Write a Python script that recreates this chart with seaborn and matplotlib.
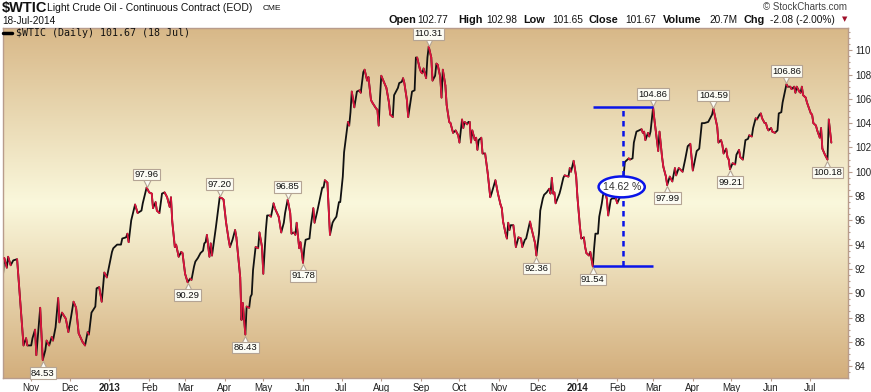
import numpy as np
import pandas as pd
import seaborn as sns
import matplotlib.pyplot as plt
import matplotlib.dates as mdates
from matplotlib.transforms import offset_copy
from matplotlib.collections import LineCollection
from matplotlib.colors import LinearSegmentedColormap
from matplotlib.patches import Ellipse
from matplotlib.lines import Line2D
from matplotlib.ticker import MultipleLocator

sns.set_style('white')
plt.rcParams['font.family'] = ['Liberation Sans', 'DejaVu Sans']

# daily closes (one line per month)
dates = [
    '2012-10-10', '2012-10-11', '2012-10-13', '2012-10-14', '2012-10-16', '2012-10-18', '2012-10-21', '2012-10-26', '2012-10-28', '2012-10-29',
    '2012-11-01', '2012-11-02', '2012-11-04', '2012-11-05', '2012-11-08', '2012-11-10', '2012-11-12', '2012-11-13', '2012-11-15', '2012-11-17', '2012-11-18', '2012-11-20', '2012-11-22', '2012-11-23', '2012-11-25', '2012-11-28', '2012-11-30',
    '2012-12-02', '2012-12-04', '2012-12-06', '2012-12-08', '2012-12-11', '2012-12-13', '2012-12-15', '2012-12-16', '2012-12-18', '2012-12-21', '2012-12-22', '2012-12-24', '2012-12-26', '2012-12-28', '2012-12-30',
    '2013-01-03', '2013-01-04', '2013-01-07', '2013-01-10', '2013-01-11', '2013-01-14', '2013-01-15', '2013-01-16', '2013-01-18', '2013-01-21', '2013-01-23', '2013-01-26', '2013-01-27', '2013-01-30',
    '2013-02-01', '2013-02-03', '2013-02-04', '2013-02-06', '2013-02-07', '2013-02-09', '2013-02-11', '2013-02-13', '2013-02-15', '2013-02-17', '2013-02-18', '2013-02-19', '2013-02-21', '2013-02-22', '2013-02-24', '2013-02-26', '2013-02-27',
    '2013-03-01', '2013-03-03', '2013-03-05', '2013-03-06', '2013-03-08', '2013-03-09', '2013-03-11', '2013-03-13', '2013-03-15', '2013-03-16', '2013-03-17', '2013-03-18', '2013-03-20', '2013-03-21', '2013-03-22', '2013-03-24', '2013-03-25', '2013-03-27', '2013-03-28', '2013-03-30', '2013-03-31',
    '2013-04-02', '2013-04-04', '2013-04-05', '2013-04-07', '2013-04-09', '2013-04-10', '2013-04-13', '2013-04-14', '2013-04-15', '2013-04-17', '2013-04-18', '2013-04-20', '2013-04-21', '2013-04-22', '2013-04-23', '2013-04-25', '2013-04-27', '2013-04-28', '2013-04-30',
    '2013-05-01', '2013-05-03', '2013-05-04', '2013-05-06', '2013-05-07', '2013-05-09', '2013-05-10', '2013-05-13', '2013-05-15', '2013-05-17', '2013-05-18', '2013-05-20', '2013-05-22', '2013-05-23', '2013-05-25', '2013-05-26', '2013-05-27', '2013-05-29', '2013-05-30',
    '2013-06-01', '2013-06-02', '2013-06-03', '2013-06-06', '2013-06-07', '2013-06-09', '2013-06-10', '2013-06-12', '2013-06-14', '2013-06-16', '2013-06-17', '2013-06-18', '2013-06-20', '2013-06-22', '2013-06-24', '2013-06-25', '2013-06-27', '2013-06-29', '2013-06-30',
    '2013-07-02', '2013-07-03', '2013-07-06', '2013-07-07', '2013-07-08', '2013-07-09', '2013-07-11', '2013-07-13', '2013-07-15', '2013-07-16', '2013-07-18', '2013-07-19', '2013-07-21', '2013-07-22', '2013-07-24', '2013-07-25', '2013-07-28', '2013-07-29', '2013-07-30', '2013-07-31',
    '2013-08-01', '2013-08-03', '2013-08-05', '2013-08-07', '2013-08-08', '2013-08-10', '2013-08-11', '2013-08-12', '2013-08-14', '2013-08-15', '2013-08-17', '2013-08-18', '2013-08-19', '2013-08-21', '2013-08-22', '2013-08-24', '2013-08-25', '2013-08-27', '2013-08-28', '2013-08-29', '2013-08-31',
    '2013-09-01', '2013-09-02', '2013-09-03', '2013-09-05', '2013-09-06', '2013-09-07', '2013-09-09', '2013-09-10', '2013-09-12', '2013-09-13', '2013-09-14', '2013-09-16', '2013-09-17', '2013-09-18', '2013-09-20', '2013-09-21', '2013-09-23', '2013-09-24', '2013-09-26', '2013-09-28', '2013-09-30',
    '2013-10-01', '2013-10-03', '2013-10-04', '2013-10-05', '2013-10-07', '2013-10-08', '2013-10-09', '2013-10-10', '2013-10-11', '2013-10-13', '2013-10-14', '2013-10-15', '2013-10-16', '2013-10-18', '2013-10-19', '2013-10-21', '2013-10-23', '2013-10-25', '2013-10-26', '2013-10-29', '2013-10-31',
    '2013-11-02', '2013-11-03', '2013-11-04', '2013-11-06', '2013-11-07', '2013-11-08', '2013-11-09', '2013-11-10', '2013-11-12', '2013-11-14', '2013-11-16', '2013-11-18', '2013-11-19', '2013-11-21', '2013-11-22', '2013-11-25', '2013-11-26', '2013-11-29', '2013-11-30',
    '2013-12-02', '2013-12-03', '2013-12-05', '2013-12-06', '2013-12-08', '2013-12-10', '2013-12-11', '2013-12-12', '2013-12-13', '2013-12-14', '2013-12-15', '2013-12-18', '2013-12-19', '2013-12-21', '2013-12-22', '2013-12-25', '2013-12-26', '2013-12-27', '2013-12-29', '2013-12-31',
    '2014-01-01', '2014-01-03', '2014-01-04', '2014-01-06', '2014-01-07', '2014-01-08', '2014-01-10', '2014-01-11', '2014-01-13', '2014-01-14', '2014-01-15', '2014-01-17', '2014-01-18', '2014-01-20', '2014-01-21', '2014-01-23', '2014-01-24', '2014-01-25', '2014-01-27', '2014-01-28', '2014-01-31',
    '2014-02-01', '2014-02-03', '2014-02-04', '2014-02-06', '2014-02-07', '2014-02-10', '2014-02-11', '2014-02-13', '2014-02-14', '2014-02-16', '2014-02-18', '2014-02-20', '2014-02-21', '2014-02-22', '2014-02-23', '2014-02-25', '2014-02-26', '2014-02-27',
    '2014-03-01', '2014-03-02', '2014-03-05', '2014-03-06', '2014-03-08', '2014-03-09', '2014-03-11', '2014-03-12', '2014-03-14', '2014-03-16', '2014-03-18', '2014-03-19', '2014-03-21', '2014-03-24', '2014-03-26', '2014-03-28', '2014-03-30',
    '2014-04-01', '2014-04-04', '2014-04-06', '2014-04-08', '2014-04-10', '2014-04-13', '2014-04-14', '2014-04-16', '2014-04-17', '2014-04-20', '2014-04-21', '2014-04-23', '2014-04-24', '2014-04-25', '2014-04-27', '2014-04-28', '2014-04-29', '2014-04-30',
    '2014-05-02', '2014-05-04', '2014-05-05', '2014-05-07', '2014-05-08', '2014-05-10', '2014-05-11', '2014-05-12', '2014-05-14', '2014-05-15', '2014-05-17', '2014-05-18', '2014-05-20', '2014-05-21', '2014-05-23', '2014-05-24', '2014-05-25', '2014-05-27', '2014-05-28', '2014-05-29', '2014-05-30',
    '2014-06-01', '2014-06-02', '2014-06-04', '2014-06-06', '2014-06-07', '2014-06-09', '2014-06-10', '2014-06-13', '2014-06-14', '2014-06-16', '2014-06-17', '2014-06-19', '2014-06-20', '2014-06-21', '2014-06-23', '2014-06-24', '2014-06-25', '2014-06-26', '2014-06-28', '2014-06-29',
    '2014-07-02', '2014-07-03', '2014-07-04', '2014-07-06', '2014-07-07', '2014-07-09', '2014-07-10', '2014-07-11', '2014-07-13', '2014-07-15', '2014-07-16', '2014-07-18',
]
closes = [
    91.5, 92.9, 92.1, 93.0, 92.3, 92.7, 92.8, 85.7, 86.3, 85.7,
    85.7, 86.3, 87.0, 84.9, 88.8, 84.5, 85.3, 86.1, 85.7, 86.4, 86.1, 87.2, 89.6, 87.6, 88.4, 87.9, 86.8,
    88.0, 89.3, 88.8, 86.7, 86.0, 85.7, 86.8, 86.6, 88.4, 88.9, 90.4, 90.5, 89.3, 91.7, 91.3,
    93.4, 93.7, 94.0, 94.0, 94.5, 94.6, 94.9, 94.2, 96.0, 97.3, 96.6, 96.8, 97.4, 98.7,
    98.3, 98.2, 97.0, 97.5, 96.8, 96.6, 98.2, 98.3, 97.9, 97.1, 97.9, 95.9, 93.8, 94.0, 93.0, 93.4, 93.3,
    91.6, 90.9, 91.2, 91.1, 92.2, 92.6, 92.9, 93.3, 93.5, 94.1, 94.2, 94.8, 93.0, 94.1, 93.1, 94.6, 95.4, 97.1, 97.9, 97.8, 97.7,
    95.8, 94.4, 93.8, 94.4, 95.2, 94.6, 91.3, 87.8, 89.2, 86.6, 88.9, 88.8, 89.7, 89.9, 91.9, 93.8, 93.7, 95.0, 93.8,
    91.6, 95.2, 96.4, 96.4, 96.3, 97.4, 97.0, 96.3, 95.0, 95.8, 96.6, 97.7, 96.6, 94.9, 95.0, 94.8, 95.8, 93.7, 94.2,
    92.5, 93.7, 94.4, 94.5, 95.5, 97.0, 95.8, 96.7, 97.7, 98.7, 98.7, 99.3, 99.1, 94.8, 95.8, 96.0, 96.3, 97.5, 97.5,
    99.6, 101.6, 104.1, 103.8, 104.9, 106.6, 105.3, 106.6, 106.7, 106.5, 108.2, 108.4, 107.5, 107.8, 105.9, 105.7, 105.2, 105.1, 103.8, 106.1,
    107.9, 107.4, 106.9, 105.7, 104.7, 104.5, 106.3, 106.5, 106.9, 107.3, 107.4, 107.7, 107.3, 105.9, 104.5, 105.9, 106.6, 106.7, 109.4, 109.4, 108.5,
    108.2, 108.1, 108.5, 107.7, 109.4, 110.3, 109.4, 107.5, 107.9, 108.9, 108.8, 107.8, 106.1, 108.4, 107.1, 105.5, 104.1, 104.0, 103.2, 103.4, 103.0,
    102.4, 104.3, 103.6, 104.1, 103.9, 104.1, 104.1, 102.4, 103.4, 102.6, 102.8, 101.8, 102.6, 102.8, 101.5, 101.5, 99.9, 97.9, 98.2, 99.3, 98.2,
    97.3, 97.0, 95.9, 94.9, 94.5, 95.8, 95.2, 95.6, 95.6, 93.8, 94.6, 94.5, 93.8, 94.4, 94.5, 95.9, 95.4, 94.1, 93.1,
    94.9, 96.8, 97.8, 98.1, 98.3, 98.6, 98.2, 99.5, 98.2, 98.3, 97.4, 98.2, 98.6, 99.5, 99.7, 99.6, 100.3, 100.0, 100.9, 99.6,
    97.9, 95.4, 94.5, 94.6, 93.8, 93.3, 93.1, 93.4, 92.2, 93.7, 94.9, 94.9, 96.3, 97.4, 98.1, 98.2, 97.7, 96.4, 97.7, 97.8, 97.8,
    97.4, 97.9, 97.9, 99.7, 100.8, 101.1, 101.0, 101.1, 102.4, 103.3, 103.4, 103.5, 103.2, 103.3, 102.6, 103.2, 102.9, 103.3,
    105.3, 104.3, 101.7, 103.3, 101.2, 100.4, 99.6, 98.9, 99.6, 99.2, 100.3, 99.7, 100.3, 100.0, 101.0, 102.1, 102.3,
    100.1, 101.7, 101.9, 104.0, 104.0, 104.1, 104.3, 104.7, 105.2, 103.7, 102.4, 102.6, 102.2, 101.5, 101.9, 101.2, 101.0, 100.2,
    100.7, 100.6, 101.4, 101.8, 101.2, 101.0, 101.8, 102.6, 102.7, 103.0, 102.9, 103.6, 104.4, 104.3, 104.7, 104.8, 104.4, 104.0, 104.0, 103.6, 103.4,
    103.6, 103.3, 103.2, 103.4, 104.8, 104.9, 105.7, 107.2, 107.0, 107.0, 106.8, 107.0, 106.5, 107.0, 106.6, 106.5, 107.0, 106.3, 106.1, 105.7,
    104.8, 104.7, 104.0, 103.8, 103.4, 102.8, 103.6, 101.9, 101.4, 101.0, 104.3, 102.4,
]
assert len(dates) == len(closes)

# labelled highs / lows
peak_dates = ['2013-01-30', '2013-03-28', '2013-05-20', '2013-09-07', '2014-03-01', '2014-04-17', '2014-06-13']
peak_text = ['97.96', '97.20', '96.85', '110.31', '104.86', '104.59', '106.86']
low_dates = ['2012-11-10', '2013-03-03', '2013-04-17', '2013-06-01', '2013-11-30', '2014-01-13', '2014-03-12', '2014-04-30', '2014-07-15']
low_text = ['84.53', '90.29', '86.43', '91.78', '92.36', '91.54', '97.99', '99.21', '100.18']

# percent move measured on the chart
move_start = '2014-01-13'
move_end = '2014-03-01'
move_text = '14.62 %'

y_ticks = list(range(84, 111, 2))

df = pd.DataFrame({'date': pd.to_datetime(dates), 'close': closes})
val = dict(zip(df['date'], df['close']))

W, H = 871, 392
fig = plt.figure(figsize=(W / 100, H / 100), dpi=100)
fig.patch.set_facecolor('white')
rect = [3 / W, 14 / H, 845 / W, 350 / H]

# tan / cream gradient behind the plot
bg = fig.add_axes(rect, zorder=0)
cmap = LinearSegmentedColormap.from_list('tan', [(0, '#d3ae7c'), (0.5, '#faf8dc'), (1, '#d8b888')])
bg.imshow(np.linspace(0, 1, 256).reshape(-1, 1), cmap=cmap, aspect='auto', origin='lower', extent=[0, 1, 0, 1])
bg.axis('off')

ax = fig.add_axes(rect, zorder=1)
ax.patch.set_alpha(0)

blk = '#111111'
red = '#dc143c'
sns.lineplot(data=df, x='date', y='close', color=blk, lw=1.3, estimator=None, sort=False, ax=ax)

# down days drawn in red on top
xn = mdates.date2num(df['date'])
yv = df['close'].values
down = np.where(np.diff(yv) < 0)[0]
segs = [[(xn[i], yv[i]), (xn[i + 1], yv[i + 1])] for i in down]
ax.add_collection(LineCollection(segs, colors=red, linewidths=1.3, capstyle='round', zorder=3))

ax.set_xlim(pd.Timestamp('2012-10-10'), pd.Timestamp('2014-07-31'))
ax.set_ylim(83.02, 111.83)
ax.set_xlabel('')
ax.set_ylabel('')

edge = '#b89c8c'
for s in ax.spines.values():
    s.set_color(edge)
    s.set_linewidth(1)

ax.yaxis.tick_right()
ax.set_yticks(y_ticks)
ax.yaxis.set_minor_locator(MultipleLocator(0.5))
ax.tick_params(axis='y', which='both', right=True, left=False, labelright=True, labelleft=False,
               direction='out', color=edge, width=0.8)
ax.tick_params(axis='y', which='major', length=3, labelsize=7, labelcolor='#222222', pad=2)
ax.tick_params(axis='y', which='minor', length=1.5)

months = pd.date_range('2012-11-01', '2014-07-01', freq='MS')
ax.set_xticks(months)
ax.set_xticklabels([m.strftime('%Y') if m.month == 1 else m.strftime('%b') for m in months])
for lbl, m in zip(ax.get_xticklabels(), months):
    if m.month == 1:
        lbl.set_fontweight('bold')
ax.tick_params(axis='x', bottom=True, direction='out', length=2, color=edge, labelsize=7,
               labelcolor='#222222', pad=1.5)

# value boxes at highs and lows
box = dict(boxstyle='square,pad=0.15', fc='#fcfcf4', ec='#b4a494', lw=0.8)
for d, t in zip(peak_dates, peak_text):
    ts = pd.Timestamp(d)
    ax.plot(ts, val[ts], marker='v', ms=6, mfc='#fcfcf4', mec='#b4a494', mew=0.8, clip_on=False, zorder=6,
            transform=offset_copy(ax.transData, fig=fig, x=0, y=5, units='dots'))
    ax.annotate(t, (ts, val[ts]), xytext=(0, 13), textcoords='offset pixels', ha='center', va='center',
                fontsize=6.8, color='#111111', bbox=box, zorder=7, annotation_clip=False)
for d, t in zip(low_dates, low_text):
    ts = pd.Timestamp(d)
    ax.plot(ts, val[ts], marker='^', ms=6, mfc='#fcfcf4', mec='#b4a494', mew=0.8, clip_on=False, zorder=6,
            transform=offset_copy(ax.transData, fig=fig, x=0, y=-5, units='dots'))
    ax.annotate(t, (ts, val[ts]), xytext=(0, -13), textcoords='offset pixels', ha='center', va='center',
                fontsize=6.8, color='#111111', bbox=box, zorder=7, annotation_clip=False)

# blue measuring tool
blue = '#0a14e8'
t0, t1 = pd.Timestamp(move_start), pd.Timestamp(move_end)
lo, hi = val[t0], val[t1]
mid = t0 + (t1 - t0) / 2
ax.hlines([lo, hi], t0, t1, color=blue, lw=1.8, zorder=8)
ax.vlines(mid, lo, hi, color=blue, lw=1.8, linestyles=(0, (2.2, 1.8)), zorder=8)
ax.add_patch(Ellipse((mdates.date2num(mid) - 1, (lo + hi) / 2), width=36, height=1.72,
                     fc='white', ec=blue, lw=1.8, zorder=9))
ax.text(mdates.date2num(mid) - 1, (lo + hi) / 2, move_text, ha='center', va='center', fontsize=7.5,
        color='#333333', zorder=10)

# legend line inside the top of the plot
fig.add_artist(Line2D([3 / W, 12 / W], [1 - 33 / H] * 2, color='black', lw=2.5))
fig.text(16 / W, 1 - 33 / H, r'\$WTIC (Daily) 101.67 (18 Jul)', family='DejaVu Sans Mono', fontsize=7.2,
         va='center', color='#111111')

# header
fig.text(2 / W, 1 - 8 / H, r'\$WTIC', fontsize=10.5, fontweight='bold', va='center', color='#111111')
fig.text(47 / W, 1 - 8 / H, 'Light Crude Oil - Continuous Contract (EOD)', fontsize=7.5, va='center', color='#111111')
fig.text(263 / W, 1 - 8 / H, 'CME', fontsize=6, va='center', color='#111111')
fig.text(2 / W, 1 - 21 / H, '18-Jul-2014', fontsize=7.2, va='center', color='#111111')
fig.text(847 / W, 1 - 7 / H, '© StockCharts.com', fontsize=7, ha='right', va='center', color='#444444')

hdr = [(388, 'Open', True), (417, '102.77', False), (458, 'High', True), (486, '102.98', False),
       (523, 'Low', True), (552, '101.65', False), (588, 'Close', True), (625, '101.67', False),
       (663, 'Volume', True), (709, '20.7M', False), (743, 'Chg', True), (770, '-2.08 (-2.00%)', False)]
for x, s, bold in hdr:
    fig.text(x / W, 1 - 20 / H, s, fontsize=7.8 if bold else 7.3, fontweight='bold' if bold else 'normal',
             va='center', color='#111111')
fig.text(845 / W, 1 - 19.5 / H, '▼', family='DejaVu Sans', fontsize=5, ha='center', va='center', color='#a0102a')

fig.savefig('out.png', dpi=100)
